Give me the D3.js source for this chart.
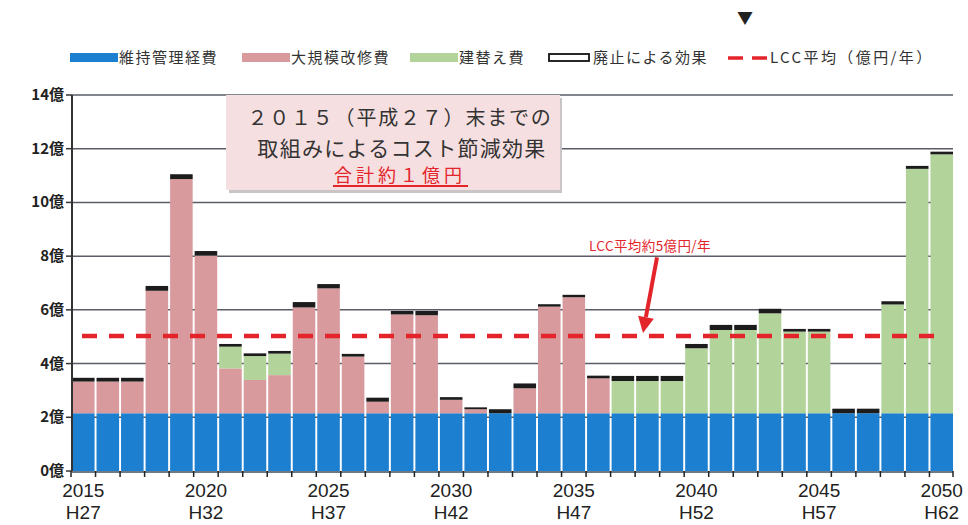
<!DOCTYPE html>
<html>
<head>
<meta charset="utf-8">
<script src="https://cdn.jsdelivr.net/npm/d3@7"></script>
<style>
  body { margin: 0; background: #fff; }
  svg { display: block; }
  text { font-family: "Noto Sans CJK JP", "Liberation Sans", sans-serif; }
</style>
</head>
<body>
<svg id="chart" width="968" height="525"></svg>
<script>
// values in 億円 per year
const years = [2015, 2016, 2017, 2018, 2019, 2020, 2021, 2022, 2023, 2024, 2025, 2026,
  2027, 2028, 2029, 2030, 2031, 2032, 2033, 2034, 2035, 2036, 2037, 2038,
  2039, 2040, 2041, 2042, 2043, 2044, 2045, 2046, 2047, 2048, 2049, 2050];

const maintenance = [2.15, 2.15, 2.15, 2.15, 2.15, 2.15, 2.15, 2.15, 2.15, 2.15, 2.15, 2.15,
  2.15, 2.15, 2.15, 2.15, 2.15, 2.15, 2.15, 2.15, 2.15, 2.15, 2.15, 2.15,
  2.15, 2.15, 2.15, 2.15, 2.15, 2.15, 2.15, 2.15, 2.15, 2.15, 2.15, 2.15];

const renovation = [1.18, 1.18, 1.18, 4.56, 8.72, 5.87, 1.67, 1.24, 1.42, 3.94, 4.65, 2.11,
  0.43, 3.68, 3.65, 0.5, 0.15, 0, 0.93, 3.97, 4.32, 1.3, 0, 0,
  0, 0, 0, 0, 0, 0, 0, 0, 0, 0, 0, 0];

const rebuild = [0, 0, 0, 0, 0, 0, 0.81, 0.89, 0.8, 0, 0, 0,
  0, 0, 0, 0, 0, 0, 0, 0, 0, 0, 1.2, 1.2,
  1.2, 2.42, 3.1, 3.1, 3.72, 3.04, 3.04, 0, 0, 4.05, 9.1, 9.64];

const abolition = [0.14, 0.14, 0.14, 0.18, 0.18, 0.17, 0.1, 0.1, 0.1, 0.2, 0.16, 0.1,
  0.15, 0.13, 0.16, 0.1, 0.07, 0.15, 0.18, 0.09, 0.09, 0.1, 0.19, 0.19,
  0.19, 0.16, 0.19, 0.19, 0.17, 0.1, 0.1, 0.17, 0.17, 0.12, 0.11, 0.1];

const lccAverage = 5.03;

const yTicks = [0, 2, 4, 6, 8, 10, 12, 14];
const labelYears = [2015, 2020, 2025, 2030, 2035, 2040, 2045, 2050];
const eraLabels = ['H27', 'H32', 'H37', 'H42', 'H47', 'H52', 'H57', 'H62'];

const seriesKeys = ['maintenance', 'renovation', 'rebuild', 'abolition'];
const seriesNames = ['維持管理経費', '大規模改修費', '建替え費', '廃止による効果'];
const colors = {
  maintenance: '#1c7fd0',
  renovation: '#d99a9e',
  rebuild: '#b2d49a',
  abolition: '#1c1c1c'
};

const rows = years.map((yr, i) => ({
  year: yr,
  maintenance: maintenance[i],
  renovation: renovation[i],
  rebuild: rebuild[i],
  abolition: abolition[i]
}));

const svg = d3.select('#chart');
const plot = { left: 72, right: 953, top: 95, bottom: 471 };

const x = d3.scaleBand().domain(years).range([plot.left, plot.right]).paddingInner(0.08).paddingOuter(0);
const y = d3.scaleLinear().domain([0, 14]).range([plot.bottom, plot.top]);

// gridlines
svg.append('g').selectAll('line')
  .data(yTicks.filter(d => d > 0))
  .join('line')
  .attr('x1', plot.left).attr('x2', plot.right)
  .attr('y1', d => y(d)).attr('y2', d => y(d))
  .attr('stroke', '#5a5d66').attr('stroke-width', 1.5);

// note box (sits over the top gridlines)
const box = svg.append('g');
box.append('rect')
  .attr('x', 229).attr('y', 98).attr('width', 333).attr('height', 95)
  .attr('fill', '#c9c4c6');
box.append('rect')
  .attr('x', 226).attr('y', 95).attr('width', 334).attr('height', 95)
  .attr('fill', '#f6dfe0');
box.append('text')
  .attr('x', 400).attr('y', 125).attr('text-anchor', 'middle')
  .attr('font-size', 20).attr('letter-spacing', 1.8).attr('fill', '#333')
  .text('２０１５（平成２７）末までの');
box.append('text')
  .attr('x', 402).attr('y', 156).attr('text-anchor', 'middle')
  .attr('font-size', 21).attr('letter-spacing', 1.3).attr('fill', '#333')
  .text('取組みによるコスト節減効果');
box.append('text')
  .attr('x', 400).attr('y', 182).attr('text-anchor', 'middle')
  .attr('font-size', 18).attr('letter-spacing', 4).attr('fill', '#e3242b')
  .text('合計約１億円');
box.append('line')
  .attr('x1', 333).attr('x2', 468).attr('y1', 186).attr('y2', 186)
  .attr('stroke', '#e3242b').attr('stroke-width', 2);

// stacked bars
const stacked = d3.stack().keys(seriesKeys)(rows);
svg.append('g').selectAll('g')
  .data(stacked)
  .join('g')
  .attr('fill', d => colors[d.key])
  .selectAll('rect')
  .data(d => d.filter(s => s[1] - s[0] > 0))
  .join('rect')
  .attr('x', d => x(d.data.year))
  .attr('width', x.bandwidth())
  .attr('y', d => y(d[1]))
  .attr('height', d => y(d[0]) - y(d[1]));

// axes
svg.append('line')
  .attr('x1', plot.left).attr('x2', plot.left).attr('y1', plot.top).attr('y2', plot.bottom)
  .attr('stroke', '#333').attr('stroke-width', 2);
svg.append('line')
  .attr('x1', plot.left).attr('x2', plot.right).attr('y1', plot.bottom + 1).attr('y2', plot.bottom + 1)
  .attr('stroke', '#6f7a86').attr('stroke-width', 2);

svg.append('g').selectAll('line')
  .data(yTicks)
  .join('line')
  .attr('x1', plot.left - 6).attr('x2', plot.left)
  .attr('y1', d => y(d)).attr('y2', d => y(d))
  .attr('stroke', '#333').attr('stroke-width', 1.5);

svg.append('g').selectAll('text')
  .data(yTicks)
  .join('text')
  .attr('x', plot.left - 8).attr('y', d => y(d) + 5)
  .attr('text-anchor', 'end')
  .attr('font-size', 15).attr('font-weight', 'bold').attr('fill', '#222')
  .text(d => d + '億');

// x ticks on every band boundary
const boundaries = years.map(yr => x(yr) - x.step() * x.paddingInner() / 2).concat([plot.right]);
svg.append('g').selectAll('line')
  .data(boundaries)
  .join('line')
  .attr('x1', d => d).attr('x2', d => d)
  .attr('y1', plot.bottom).attr('y2', plot.bottom + 6)
  .attr('stroke', '#222').attr('stroke-width', 1.5);

const xl = svg.append('g')
  .attr('font-size', 19).attr('fill', '#222').attr('text-anchor', 'middle');
xl.selectAll('text.yr')
  .data(labelYears)
  .join('text').attr('class', 'yr')
  .attr('x', d => x(d) + x.bandwidth() / 2)
  .attr('y', 497)
  .style('font-family', '"Liberation Sans", Arial, sans-serif')
  .text(d => d);
xl.selectAll('text.era')
  .data(labelYears.map((d, i) => ({ year: d, label: eraLabels[i] })))
  .join('text').attr('class', 'era')
  .attr('x', d => x(d.year) + x.bandwidth() / 2)
  .attr('y', 519)
  .style('font-family', '"Liberation Sans", Arial, sans-serif')
  .text(d => d.label);

// LCC average
svg.append('line')
  .attr('x1', 82).attr('x2', 945)
  .attr('y1', y(lccAverage)).attr('y2', y(lccAverage))
  .attr('stroke', '#e3242b').attr('stroke-width', 4.5)
  .attr('stroke-dasharray', '15,12');

svg.append('text')
  .attr('x', 589).attr('y', 251)
  .attr('font-size', 13.5).attr('letter-spacing', 0.4).attr('fill', '#e3242b')
  .text('LCC平均約5億円/年');

// arrow pointing at the average line
const ax1 = 657, ay1 = y(7.95), ax2 = 643, ay2 = y(lccAverage) - 3;
const ang = Math.atan2(ay2 - ay1, ax2 - ax1);
const headLen = 16, headW = 8;
const bx = ax2 - headLen * Math.cos(ang), by = ay2 - headLen * Math.sin(ang);
svg.append('line')
  .attr('x1', ax1).attr('y1', ay1).attr('x2', bx).attr('y2', by)
  .attr('stroke', '#e3242b').attr('stroke-width', 4);
svg.append('path')
  .attr('d', 'M' + ax2 + ',' + ay2 +
    'L' + (bx + headW * Math.sin(ang)) + ',' + (by - headW * Math.cos(ang)) +
    'L' + (bx - headW * Math.sin(ang)) + ',' + (by + headW * Math.cos(ang)) + 'Z')
  .attr('fill', '#e3242b');

// legend
const legend = svg.append('g');
const legendX = [70, 242, 410, 548];
seriesKeys.forEach((k, i) => {
  const g = legend.append('g').attr('transform', 'translate(' + legendX[i] + ',0)');
  if (k === 'abolition') {
    g.append('rect').attr('x', 1).attr('y', 54).attr('width', 40).attr('height', 7)
      .attr('fill', '#fff').attr('stroke', '#111').attr('stroke-width', 1.8);
    g.append('text').attr('x', 45).attr('y', 63)
      .attr('font-size', 15).attr('letter-spacing', 1.5).attr('fill', '#333')
      .text(seriesNames[i]);
  } else {
    g.append('rect').attr('x', 0).attr('y', 53).attr('width', 48).attr('height', 9)
      .attr('fill', colors[k]);
    g.append('text').attr('x', 49).attr('y', 63)
      .attr('font-size', 15).attr('letter-spacing', 1.5).attr('fill', '#333')
      .text(seriesNames[i]);
  }
});
const lg = legend.append('g').attr('transform', 'translate(728,0)');
lg.append('line').attr('x1', 0).attr('x2', 40).attr('y1', 58).attr('y2', 58)
  .attr('stroke', '#e3242b').attr('stroke-width', 3.5).attr('stroke-dasharray', '15,9');
lg.append('text').attr('x', 42).attr('y', 63)
  .attr('font-size', 15).attr('letter-spacing', 2.4).attr('fill', '#333')
  .text('LCC平均（億円/年）');

// marker at the top of the page
svg.append('text')
  .attr('x', 745).attr('y', 24).attr('text-anchor', 'middle')
  .attr('font-size', 16).attr('fill', '#222')
  .text('▼');
</script>
</body>
</html>
